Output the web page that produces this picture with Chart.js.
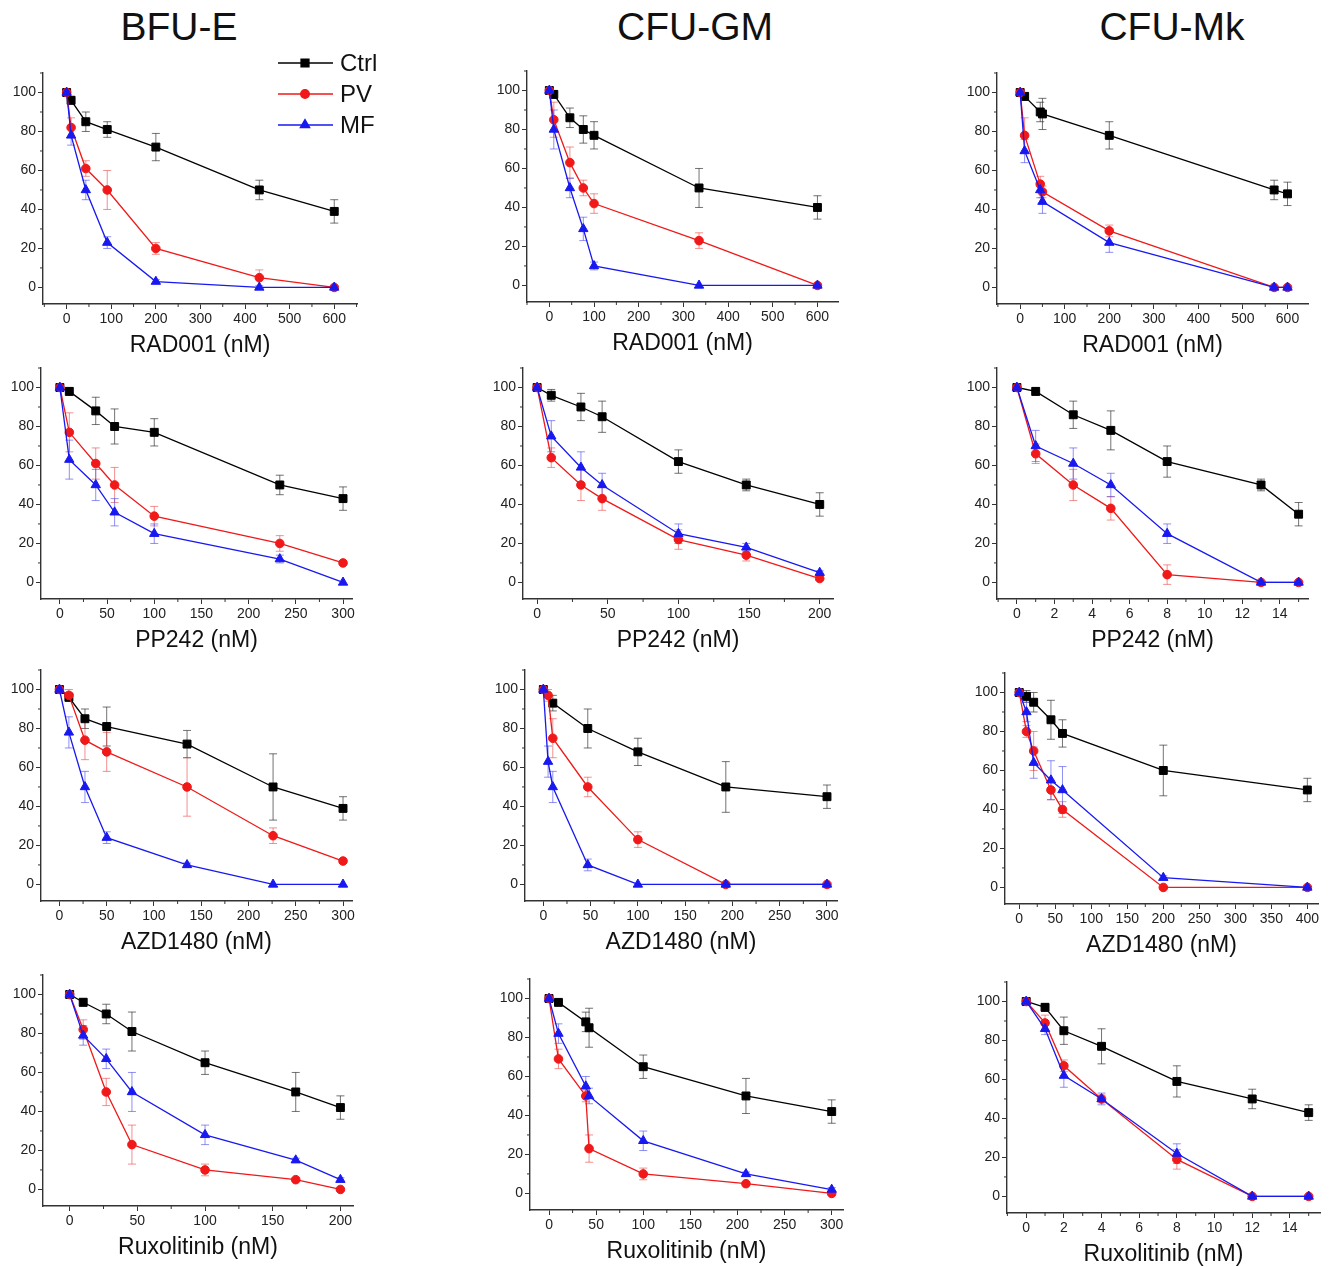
<!DOCTYPE html>
<html>
<head>
<meta charset="utf-8">
<script src="https://cdn.jsdelivr.net/npm/chart.js"></script>
<style>
  body { margin: 0; background: #fff; width: 1331px; height: 1267px; position: relative; overflow: hidden;
         font-family: "Liberation Sans", Arial, sans-serif; }
  canvas { position: absolute; }
  .colTitle { position: absolute; top: 5px; font-size: 39px; color: #111; transform: translateX(-50%); white-space: nowrap; }
</style>
</head>
<body>
<div class="colTitle" style="left:179px">BFU-E</div>
<div class="colTitle" style="left:695px">CFU-GM</div>
<div class="colTitle" style="left:1172px">CFU-Mk</div>
<script>
// ---- data (% of untreated) ----
const seriesNames = ['Ctrl', 'PV', 'MF'];
const yTicks = [0, 20, 40, 60, 80, 100];
const radTicks = [0, 100, 200, 300, 400, 500, 600];
const tick300 = [0, 50, 100, 150, 200, 250, 300];
const tick200 = [0, 50, 100, 150, 200];
const tick400 = [0, 50, 100, 150, 200, 250, 300, 350, 400];
const tick14 = [0, 2, 4, 6, 8, 10, 12, 14];

// BFU-E / RAD001
const bfuRadDose = [0, 10, 43, 91, 200, 432, 600];
const bfuRadCtrl = [100, 96, 85, 81, 72, 50, 39];
const bfuRadCtrlSd = [0, 2, 5, 4, 7, 5, 6];
const bfuRadPV = [100, 82, 61, 50, 20, 5, 0];
const bfuRadPVSd = [0, 5, 4, 10, 3, 4, 1];
const bfuRadMF = [100, 78, 50, 23, 3, 0, 0];
const bfuRadMFSd = [0, 5, 5, 3, 1, 0, 0];

// CFU-GM / RAD001
const gmRadDose = [0, 10, 46, 76, 100, 335, 600];
const gmRadCtrl = [100, 98, 86, 80, 77, 50, 40];
const gmRadCtrlSd = [0, 2, 5, 7, 7, 10, 6];
const gmRadPV = [100, 85, 63, 50, 42, 23, 0];
const gmRadPVSd = [0, 9, 8, 4, 5, 4, 0];
const gmRadMF = [100, 80, 50, 29, 10, 0, 0];
const gmRadMFSd = [0, 10, 5, 6, 2, 0, 0];

// CFU-Mk / RAD001
const mkRadDose = [0, 10, 45, 50, 200, 570, 600];
const mkRadCtrl = [100, 98, 90, 89, 78, 50, 48];
const mkRadCtrlSd = [0, 2, 5, 8, 7, 5, 6];
const mkRadPV = [100, 78, 53, 49, 29, 0, 0];
const mkRadPVSd = [0, 9, 4, 3, 3, 0, 0];
const mkRadMF = [100, 70, 50, 44, 23, 0, 0];
const mkRadMFSd = [0, 6, 4, 6, 5, 0, 0];

// BFU-E / PP242
const bfuPPDose = [0, 10, 38, 58, 100, 233, 300];
const bfuPPCtrl = [100, 98, 88, 80, 77, 50, 43];
const bfuPPCtrlSd = [0, 2, 7, 9, 7, 5, 6];
const bfuPPPV = [100, 77, 61, 50, 34, 20, 10];
const bfuPPPVSd = [0, 10, 8, 9, 5, 4, 1];
const bfuPPMF = [100, 63, 50, 36, 25, 12, 0];
const bfuPPMFSd = [0, 10, 8, 7, 5, 2, 0];

// CFU-GM / PP242
const gmPPDose = [0, 10, 31, 46, 100, 148, 200];
const gmPPCtrl = [100, 96, 90, 85, 62, 50, 40];
const gmPPCtrlSd = [0, 3, 7, 8, 6, 3, 6];
const gmPPPV = [100, 64, 50, 43, 22, 14, 2];
const gmPPPVSd = [0, 5, 8, 6, 5, 3, 1];
const gmPPMF = [100, 75, 59, 50, 25, 18, 5];
const gmPPMFSd = [0, 8, 8, 6, 5, 2, 1];

// CFU-Mk / PP242
const mkPPDose = [0, 1, 3, 5, 8, 13, 15];
const mkPPCtrl = [100, 98, 86, 78, 62, 50, 35];
const mkPPCtrlSd = [0, 2, 7, 10, 8, 3, 6];
const mkPPPV = [100, 66, 50, 38, 4, 0, 0];
const mkPPPVSd = [0, 5, 8, 6, 5, 0, 0];
const mkPPMF = [100, 70, 61, 50, 25, 0, 0];
const mkPPMFSd = [0, 8, 8, 6, 5, 0, 0];

// BFU-E / AZD1480
const bfuAzdDose = [0, 10, 27, 50, 135, 226, 300];
const bfuAzdCtrl = [100, 96, 85, 81, 72, 50, 39];
const bfuAzdCtrlSd = [0, 2, 5, 10, 7, 17, 6];
const bfuAzdPV = [100, 97, 74, 68, 50, 25, 12];
const bfuAzdPVSd = [0, 3, 10, 10, 15, 4, 1];
const bfuAzdMF = [100, 78, 50, 24, 10, 0, 0];
const bfuAzdMFSd = [0, 8, 8, 3, 1, 0, 0];

// CFU-GM / AZD1480
const gmAzdCtrlDose = [0, 10, 47, 100, 193, 300];
const gmAzdCtrl = [100, 93, 80, 68, 50, 45];
const gmAzdCtrlSd = [0, 4, 10, 7, 13, 6];
const gmAzdDose = [0, 5, 10, 47, 100, 193, 300];
const gmAzdPV = [100, 97, 75, 50, 23, 0, 0];
const gmAzdPVSd = [0, 3, 10, 5, 4, 0, 0];
const gmAzdMF = [100, 63, 50, 10, 0, 0, 0];
const gmAzdMFSd = [0, 8, 8, 3, 0, 0, 0];

// CFU-Mk / AZD1480
const mkAzdDose = [0, 10, 20, 44, 60, 200, 400];
const mkAzdCtrl = [100, 98, 95, 86, 79, 60, 50];
const mkAzdCtrlSd = [0, 3, 5, 10, 7, 13, 6];
const mkAzdPV = [100, 80, 70, 50, 40, 0, 0];
const mkAzdPVSd = [0, 3, 10, 5, 4, 0, 0];
const mkAzdMF = [100, 90, 64, 55, 50, 5, 0];
const mkAzdMFSd = [0, 5, 8, 10, 12, 1, 0];

// BFU-E / Ruxolitinib
const bfuRuxDose = [0, 10, 27, 46, 100, 167, 200];
const bfuRuxCtrl = [100, 96, 90, 81, 65, 50, 42];
const bfuRuxCtrlSd = [0, 2, 5, 10, 6, 10, 6];
const bfuRuxPV = [100, 82, 50, 23, 10, 5, 0];
const bfuRuxPVSd = [0, 5, 7, 10, 3, 1, 0];
const bfuRuxMF = [100, 79, 67, 50, 28, 15, 5];
const bfuRuxMFSd = [0, 5, 5, 10, 5, 1, 1];

// CFU-GM / Ruxolitinib
const gmRuxDose = [0, 10, 39, 42.5, 100, 209, 300];
const gmRuxCtrl = [100, 98, 88, 85, 65, 50, 42];
const gmRuxCtrlSd = [0, 1, 5, 10, 6, 9, 6];
const gmRuxPV = [100, 69, 50, 23, 10, 5, 0];
const gmRuxPVSd = [0, 5, 3, 7, 3, 1, 0];
const gmRuxMF = [100, 82, 55, 50, 27, 10, 2];
const gmRuxMFSd = [0, 5, 5, 4, 5, 1, 1];

// CFU-Mk / Ruxolitinib
const mkRuxDose = [0, 1, 2, 4, 8, 12, 15];
const mkRuxCtrl = [100, 97, 85, 77, 59, 50, 43];
const mkRuxCtrlSd = [0, 2, 7, 9, 8, 5, 4];
const mkRuxPV = [100, 89, 67, 50, 19, 0, 0];
const mkRuxPVSd = [0, 4, 3, 2, 5, 0, 0];
const mkRuxMF = [100, 86, 62, 50, 22, 0, 0];
const mkRuxMFSd = [0, 3, 6, 3, 5, 0, 0];

const panels = [
  { drug: 'RAD001 (nM)', ticks: radTicks, xMin: -53, xMax: 651,
    dose: [bfuRadDose, bfuRadDose, bfuRadDose], mean: [bfuRadCtrl, bfuRadPV, bfuRadMF], sd: [bfuRadCtrlSd, bfuRadPVSd, bfuRadMFSd] },
  { drug: 'RAD001 (nM)', ticks: radTicks, xMin: -50, xMax: 646,
    dose: [gmRadDose, gmRadDose, gmRadDose], mean: [gmRadCtrl, gmRadPV, gmRadMF], sd: [gmRadCtrlSd, gmRadPVSd, gmRadMFSd] },
  { drug: 'RAD001 (nM)', ticks: radTicks, xMin: -52, xMax: 646,
    dose: [mkRadDose, mkRadDose, mkRadDose], mean: [mkRadCtrl, mkRadPV, mkRadMF], sd: [mkRadCtrlSd, mkRadPVSd, mkRadMFSd] },
  { drug: 'PP242 (nM)', ticks: tick300, xMin: -20, xMax: 309.5,
    dose: [bfuPPDose, bfuPPDose, bfuPPDose], mean: [bfuPPCtrl, bfuPPPV, bfuPPMF], sd: [bfuPPCtrlSd, bfuPPPVSd, bfuPPMFSd] },
  { drug: 'PP242 (nM)', ticks: tick200, xMin: -10, xMax: 209.4,
    dose: [gmPPDose, gmPPDose, gmPPDose], mean: [gmPPCtrl, gmPPPV, gmPPMF], sd: [gmPPCtrlSd, gmPPPVSd, gmPPMFSd] },
  { drug: 'PP242 (nM)', ticks: tick14, xMin: -1.06, xMax: 15.5,
    dose: [mkPPDose, mkPPDose, mkPPDose], mean: [mkPPCtrl, mkPPPV, mkPPMF], sd: [mkPPCtrlSd, mkPPPVSd, mkPPMFSd] },
  { drug: 'AZD1480 (nM)', ticks: tick300, xMin: -19.5, xMax: 309.5,
    dose: [bfuAzdDose, bfuAzdDose, bfuAzdDose], mean: [bfuAzdCtrl, bfuAzdPV, bfuAzdMF], sd: [bfuAzdCtrlSd, bfuAzdPVSd, bfuAzdMFSd] },
  { drug: 'AZD1480 (nM)', ticks: tick300, xMin: -19.4, xMax: 310.6,
    dose: [gmAzdCtrlDose, gmAzdDose, gmAzdDose], mean: [gmAzdCtrl, gmAzdPV, gmAzdMF], sd: [gmAzdCtrlSd, gmAzdPVSd, gmAzdMFSd] },
  { drug: 'AZD1480 (nM)', ticks: tick400, xMin: -19.8, xMax: 414.8,
    dose: [mkAzdDose, mkAzdDose, mkAzdDose], mean: [mkAzdCtrl, mkAzdPV, mkAzdMF], sd: [mkAzdCtrlSd, mkAzdPVSd, mkAzdMFSd] },
  { drug: 'Ruxolitinib (nM)', ticks: tick200, xMin: -19.7, xMax: 209.3,
    dose: [bfuRuxDose, bfuRuxDose, bfuRuxDose], mean: [bfuRuxCtrl, bfuRuxPV, bfuRuxMF], sd: [bfuRuxCtrlSd, bfuRuxPVSd, bfuRuxMFSd] },
  { drug: 'Ruxolitinib (nM)', ticks: tick300, xMin: -20.2, xMax: 312,
    dose: [gmRuxDose, gmRuxDose, gmRuxDose], mean: [gmRuxCtrl, gmRuxPV, gmRuxMF], sd: [gmRuxCtrlSd, gmRuxPVSd, gmRuxMFSd] },
  { drug: 'Ruxolitinib (nM)', ticks: tick14, xMin: -1.02, xMax: 15.6,
    dose: [mkRuxDose, mkRuxDose, mkRuxDose], mean: [mkRuxCtrl, mkRuxPV, mkRuxMF], sd: [mkRuxCtrlSd, mkRuxPVSd, mkRuxMFSd] },
];

// ---- layout: [plot left px, plot right px, pixel row of y=100] ----
const plotBoxes = [
  [43, 357, 92.7], [527, 838, 90], [997, 1308, 92.7],
  [41, 352, 387], [523, 833, 387], [997, 1308, 387],
  [41, 352, 689], [525, 837, 689], [1005, 1318, 692],
  [43, 353, 994], [530, 843, 998], [1007, 1320, 1001],
];
const Y_MIN = -8.5, Y_MAX = 110, PX_PER_Y = 1.95;
const AXIS_W = 42, AXIS_H = 59, PAD_T = 30, PAD_R = 32;
const AXIS_COLOR = '#333';
const FONT = '"Liberation Sans", Arial, sans-serif';

const styles = [
  { color: '#000000', err: 'rgba(40,40,40,0.65)', marker: 'rect', r: 5.6, order: 2 },
  { color: '#f01818', err: 'rgba(235,70,70,0.6)', marker: 'circle', r: 4.3, order: 1 },
  { color: '#1818f0', err: 'rgba(70,70,235,0.6)', marker: 'triangle', r: 5.4, order: 0 },
];

// error bars under the lines
const errorBars = {
  id: 'errorBars',
  beforeDatasetsDraw(chart) {
    const { ctx, scales: { x, y } } = chart;
    ctx.save();
    ctx.lineWidth = 1;
    chart.data.datasets.forEach(ds => {
      ctx.strokeStyle = ds.errColor;
      ds.data.forEach((pt, j) => {
        const e = ds.sd[j];
        if (!e) return;
        const px = x.getPixelForValue(pt.x);
        const top = y.getPixelForValue(pt.y + e);
        const bot = y.getPixelForValue(pt.y - e);
        ctx.beginPath();
        ctx.moveTo(px, top); ctx.lineTo(px, bot);
        ctx.moveTo(px - 4, top); ctx.lineTo(px + 4, top);
        ctx.moveTo(px - 4, bot); ctx.lineTo(px + 4, bot);
        ctx.stroke();
      });
    });
    ctx.restore();
  }
};

// Origin style minor ticks between the major ones
const minorTicks = {
  id: 'minorTicks',
  afterDraw(chart) {
    const { ctx, chartArea: a, scales: { x, y } } = chart;
    const mids = (s) => {
      const v = s.ticks.map(t => t.value);
      const step = v[1] - v[0];
      const out = [];
      for (let m = v[0] - step / 2; m <= s.max; m += step) if (m >= s.min) out.push(m);
      return out;
    };
    ctx.save();
    ctx.strokeStyle = AXIS_COLOR;
    ctx.lineWidth = 1;
    ctx.beginPath();
    mids(x).forEach(v => { const p = x.getPixelForValue(v); ctx.moveTo(p, a.bottom); ctx.lineTo(p, a.bottom + 3); });
    mids(y).forEach(v => { const p = y.getPixelForValue(v); ctx.moveTo(a.left, p); ctx.lineTo(a.left - 3, p); });
    ctx.stroke();
    ctx.restore();
  }
};

// legend only on the first panel, drawn above the plot like the original
const lineLegend = {
  id: 'lineLegend',
  afterDraw(chart, args, opts) {
    if (!opts.show) return;
    const { ctx, chartArea: a } = chart;
    ctx.save();
    seriesNames.forEach((name, k) => {
      const st = styles[k];
      const yy = a.top - 10 + 31 * k;
      ctx.strokeStyle = st.color;
      ctx.lineWidth = 1.3;
      ctx.beginPath();
      ctx.moveTo(a.left + 235, yy); ctx.lineTo(a.left + 290, yy);
      ctx.stroke();
      ctx.fillStyle = st.color;
      Chart.helpers.drawPoint(ctx, { pointStyle: st.marker, radius: st.r, rotation: 0, borderWidth: 1 }, a.left + 262, yy);
      ctx.fillStyle = '#111';
      ctx.font = '24px ' + FONT;
      ctx.textBaseline = 'middle';
      ctx.fillText(name, a.left + 297, yy + 1);
    });
    ctx.restore();
  }
};

panels.forEach((p, i) => {
  const [plotL, plotR, y100] = plotBoxes[i];
  const plotTop = y100 - (Y_MAX - 100) * PX_PER_Y;
  const plotH = (Y_MAX - Y_MIN) * PX_PER_Y;
  const cv = document.createElement('canvas');
  cv.width = Math.round(AXIS_W + (plotR - plotL) + PAD_R);
  cv.height = Math.round(PAD_T + plotH + AXIS_H);
  cv.style.left = (plotL - AXIS_W) + 'px';
  cv.style.top = Math.round(plotTop - PAD_T) + 'px';
  document.body.appendChild(cv);

  new Chart(cv, {
    type: 'line',
    data: {
      datasets: seriesNames.map((name, k) => ({
        label: name,
        data: p.dose[k].map((x, j) => ({ x: x, y: p.mean[k][j] })),
        sd: p.sd[k],
        errColor: styles[k].err,
        borderColor: styles[k].color,
        backgroundColor: styles[k].color,
        borderWidth: 1.3,
        pointStyle: styles[k].marker,
        pointRadius: styles[k].r,
        pointBorderWidth: 1,
        tension: 0,
        clip: false,
        order: styles[k].order
      }))
    },
    options: {
      responsive: false,
      animation: false,
      devicePixelRatio: 1,
      layout: { padding: { top: PAD_T, right: PAD_R, left: 0, bottom: 0 } },
      plugins: {
        legend: { display: false },
        tooltip: { enabled: false },
        lineLegend: { show: i === 0 }
      },
      scales: {
        x: {
          type: 'linear',
          min: p.xMin, max: p.xMax,
          afterBuildTicks: s => { s.ticks = p.ticks.map(v => ({ value: v })); },
          afterFit: s => { s.height = AXIS_H; },
          grid: { drawOnChartArea: false, drawTicks: true, tickLength: 5, color: AXIS_COLOR, lineWidth: 1 },
          border: { display: true, color: AXIS_COLOR, width: 1.4 },
          ticks: { font: { family: FONT, size: 14 }, color: '#222', padding: 2, maxRotation: 0 },
          title: { display: true, text: p.drug, font: { family: FONT, size: 23 }, color: '#111', padding: { top: 0, bottom: 4 } }
        },
        y: {
          min: Y_MIN, max: Y_MAX,
          afterBuildTicks: s => { s.ticks = yTicks.map(v => ({ value: v })); },
          afterFit: s => { s.width = AXIS_W; },
          grid: { drawOnChartArea: false, drawTicks: true, tickLength: 5, color: AXIS_COLOR, lineWidth: 1 },
          border: { display: true, color: AXIS_COLOR, width: 1.4 },
          ticks: { font: { family: FONT, size: 14 }, color: '#222', padding: 2 }
        }
      }
    },
    plugins: [errorBars, minorTicks, lineLegend]
  });
});
</script>
</body>
</html>
